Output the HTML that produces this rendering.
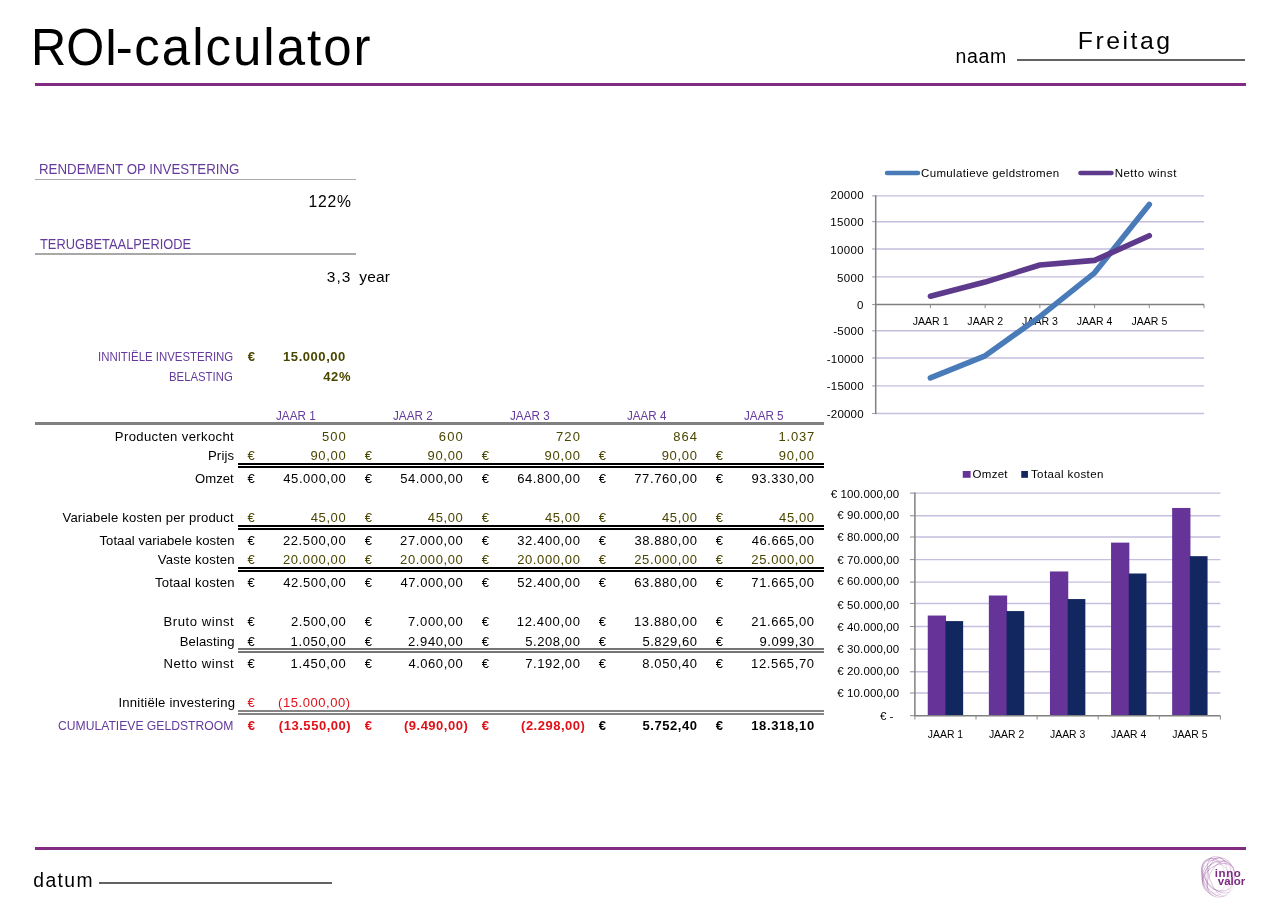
<!DOCTYPE html>
<html lang="nl"><head><meta charset="utf-8"><title>ROI-calculator</title>
<style>
html,body{margin:0;padding:0;background:#fff;}
body{width:1280px;height:904px;position:relative;overflow:hidden;font-family:"Liberation Sans",sans-serif;color:#000;}
.t{position:absolute;white-space:nowrap;line-height:1;transform-origin:0 0;}
.r{position:absolute;}
h1{margin:0;font-weight:normal;font-size:inherit;}
.chart{position:absolute;left:0;top:0;}
.page{position:absolute;left:0;top:0;width:1280px;height:904px;will-change:transform;}
</style></head><body><main class="page">
<header>
<h1>
<span class="t title" style="left:30.80px;top:22px;font-size:51px;transform:scaleX(0.9559);">ROI</span>
<span class="t title" style="left:115.86px;top:22px;font-size:51px;letter-spacing:0.705px;">-</span>
<span class="t title" style="left:134.26px;top:22px;font-size:51px;letter-spacing:2.009px;">calculator</span>
</h1>
<div class="t" style="left:955.46px;top:47px;font-size:19.5px;letter-spacing:0.712px;">naam</div>
<div class="r" style="left:1017.00px;top:59.45px;width:228.40px;height:1.40px;background:#626262"></div>
<div class="t" style="left:1077.77px;top:29px;font-size:24.8px;letter-spacing:2.507px;">Freitag</div>
<div class="r" style="left:34.50px;top:82.95px;width:1211.20px;height:3.05px;background:#812b83"></div>
</header>
<section class="kpi">
<div class="t" style="left:39.31px;top:162px;font-size:14.5px;transform:scaleX(0.9166);color:#643a9c;">RENDEMENT OP INVESTERING</div>
<div class="r" style="left:34.60px;top:178.75px;width:321.50px;height:1.45px;background:#a8a8a8"></div>
<div class="t" style="left:308.61px;top:194px;font-size:15.7px;letter-spacing:0.699px;">122%</div>
<div class="t" style="left:40.12px;top:237px;font-size:14.5px;transform:scaleX(0.8861);color:#643a9c;">TERUGBETAALPERIODE</div>
<div class="r" style="left:34.60px;top:253.40px;width:321.50px;height:1.45px;background:#a8a8a8"></div>
<div class="t" style="left:326.81px;top:269px;font-size:15.5px;letter-spacing:1.005px;">3,3</div>
<div class="t" style="left:359.27px;top:269px;font-size:15.5px;letter-spacing:0.144px;">year</div>
</section>
<section class="inputs">
<div class="t" style="left:97.85px;top:351px;font-size:12.8px;transform:scaleX(0.8930);color:#643a9c;">INNITIËLE INVESTERING</div>
<div class="t" style="left:247.65px;top:350px;font-size:13px;color:#4a4600;font-weight:bold;">€</div>
<div class="t" style="left:283.09px;top:350px;font-size:13px;letter-spacing:0.549px;color:#4a4600;font-weight:bold;">15.000,00</div>
<div class="t" style="left:169.37px;top:371px;font-size:12.8px;transform:scaleX(0.8876);color:#643a9c;">BELASTING</div>
<div class="t" style="left:323.20px;top:370px;font-size:13px;letter-spacing:0.660px;color:#4a4600;font-weight:bold;">42%</div>
</section>
<section class="table">
<div class="t" style="left:276.22px;top:409px;font-size:13.2px;transform:scaleX(0.8881);color:#643a9c;">JAAR 1</div>
<div class="t" style="left:393.20px;top:409px;font-size:13.2px;transform:scaleX(0.8886);color:#643a9c;">JAAR 2</div>
<div class="t" style="left:510.18px;top:409px;font-size:13.2px;transform:scaleX(0.8867);color:#643a9c;">JAAR 3</div>
<div class="t" style="left:627.17px;top:409px;font-size:13.2px;transform:scaleX(0.8830);color:#643a9c;">JAAR 4</div>
<div class="t" style="left:744.14px;top:409px;font-size:13.2px;transform:scaleX(0.8862);color:#643a9c;">JAAR 5</div>
<div class="r" style="left:34.60px;top:422.30px;width:789.30px;height:3.20px;background:#808080"></div>
<div class="t" style="left:114.83px;top:430px;font-size:13.1px;letter-spacing:0.359px;">Producten verkocht</div>
<div class="t" style="left:321.88px;top:430px;font-size:13px;letter-spacing:1.065px;color:#4a4600;">500</div>
<div class="t" style="left:438.85px;top:430px;font-size:13px;letter-spacing:1.130px;color:#4a4600;">600</div>
<div class="t" style="left:555.94px;top:430px;font-size:13px;letter-spacing:1.136px;color:#4a4600;">720</div>
<div class="t" style="left:673.14px;top:430px;font-size:13px;letter-spacing:1.026px;color:#4a4600;">864</div>
<div class="t" style="left:778.41px;top:430px;font-size:13px;letter-spacing:0.828px;color:#4a4600;">1.037</div>
<div class="t" style="left:207.93px;top:449px;font-size:13.1px;letter-spacing:0.195px;">Prijs</div>
<div class="t" style="left:247.61px;top:449px;font-size:13px;color:#4a4600;">€</div>
<div class="t" style="left:310.40px;top:449px;font-size:13px;letter-spacing:0.691px;color:#4a4600;">90,00</div>
<div class="t" style="left:364.66px;top:449px;font-size:13px;color:#4a4600;">€</div>
<div class="t" style="left:427.50px;top:449px;font-size:13px;letter-spacing:0.691px;color:#4a4600;">90,00</div>
<div class="t" style="left:481.71px;top:449px;font-size:13px;color:#4a4600;">€</div>
<div class="t" style="left:544.60px;top:449px;font-size:13px;letter-spacing:0.692px;color:#4a4600;">90,00</div>
<div class="t" style="left:598.76px;top:449px;font-size:13px;color:#4a4600;">€</div>
<div class="t" style="left:661.70px;top:449px;font-size:13px;letter-spacing:0.692px;color:#4a4600;">90,00</div>
<div class="t" style="left:715.81px;top:449px;font-size:13px;color:#4a4600;">€</div>
<div class="t" style="left:778.80px;top:449px;font-size:13px;letter-spacing:0.692px;color:#4a4600;">90,00</div>
<div class="r" style="left:238.00px;top:462.85px;width:585.90px;height:2.10px;background:#000"></div>
<div class="r" style="left:238.00px;top:466.00px;width:585.90px;height:2.10px;background:#000"></div>
<div class="t" style="left:194.88px;top:472px;font-size:13.1px;letter-spacing:0.082px;">Omzet</div>
<div class="t" style="left:247.61px;top:472px;font-size:13px;">€</div>
<div class="t" style="left:283.31px;top:472px;font-size:13px;letter-spacing:0.568px;">45.000,00</div>
<div class="t" style="left:364.66px;top:472px;font-size:13px;">€</div>
<div class="t" style="left:400.18px;top:472px;font-size:13px;letter-spacing:0.597px;">54.000,00</div>
<div class="t" style="left:481.71px;top:472px;font-size:13px;">€</div>
<div class="t" style="left:517.15px;top:472px;font-size:13px;letter-spacing:0.613px;">64.800,00</div>
<div class="t" style="left:598.76px;top:472px;font-size:13px;">€</div>
<div class="t" style="left:634.24px;top:472px;font-size:13px;letter-spacing:0.615px;">77.760,00</div>
<div class="t" style="left:715.81px;top:472px;font-size:13px;">€</div>
<div class="t" style="left:751.40px;top:472px;font-size:13px;letter-spacing:0.607px;">93.330,00</div>
<div class="t" style="left:62.45px;top:511px;font-size:13.1px;letter-spacing:0.178px;">Variabele kosten per product</div>
<div class="t" style="left:247.61px;top:511px;font-size:13px;color:#4a4600;">€</div>
<div class="t" style="left:310.71px;top:511px;font-size:13px;letter-spacing:0.613px;color:#4a4600;">45,00</div>
<div class="t" style="left:364.66px;top:511px;font-size:13px;color:#4a4600;">€</div>
<div class="t" style="left:427.81px;top:511px;font-size:13px;letter-spacing:0.613px;color:#4a4600;">45,00</div>
<div class="t" style="left:481.71px;top:511px;font-size:13px;color:#4a4600;">€</div>
<div class="t" style="left:544.91px;top:511px;font-size:13px;letter-spacing:0.614px;color:#4a4600;">45,00</div>
<div class="t" style="left:598.76px;top:511px;font-size:13px;color:#4a4600;">€</div>
<div class="t" style="left:662.01px;top:511px;font-size:13px;letter-spacing:0.614px;color:#4a4600;">45,00</div>
<div class="t" style="left:715.81px;top:511px;font-size:13px;color:#4a4600;">€</div>
<div class="t" style="left:779.11px;top:511px;font-size:13px;letter-spacing:0.614px;color:#4a4600;">45,00</div>
<div class="r" style="left:238.00px;top:524.75px;width:585.90px;height:2.10px;background:#000"></div>
<div class="r" style="left:238.00px;top:527.95px;width:585.90px;height:2.10px;background:#000"></div>
<div class="t" style="left:99.51px;top:534px;font-size:13.1px;letter-spacing:0.047px;">Totaal variabele kosten</div>
<div class="t" style="left:247.61px;top:534px;font-size:13px;">€</div>
<div class="t" style="left:282.95px;top:534px;font-size:13px;letter-spacing:0.613px;">22.500,00</div>
<div class="t" style="left:364.66px;top:534px;font-size:13px;">€</div>
<div class="t" style="left:400.05px;top:534px;font-size:13px;letter-spacing:0.613px;">27.000,00</div>
<div class="t" style="left:481.71px;top:534px;font-size:13px;">€</div>
<div class="t" style="left:517.31px;top:534px;font-size:13px;letter-spacing:0.594px;">32.400,00</div>
<div class="t" style="left:598.76px;top:534px;font-size:13px;">€</div>
<div class="t" style="left:634.41px;top:534px;font-size:13px;letter-spacing:0.594px;">38.880,00</div>
<div class="t" style="left:715.81px;top:534px;font-size:13px;">€</div>
<div class="t" style="left:751.71px;top:534px;font-size:13px;letter-spacing:0.568px;">46.665,00</div>
<div class="t" style="left:157.85px;top:553px;font-size:13.1px;letter-spacing:0.175px;">Vaste kosten</div>
<div class="t" style="left:247.61px;top:553px;font-size:13px;color:#4a4600;">€</div>
<div class="t" style="left:282.95px;top:553px;font-size:13px;letter-spacing:0.613px;color:#4a4600;">20.000,00</div>
<div class="t" style="left:364.66px;top:553px;font-size:13px;color:#4a4600;">€</div>
<div class="t" style="left:400.05px;top:553px;font-size:13px;letter-spacing:0.613px;color:#4a4600;">20.000,00</div>
<div class="t" style="left:481.71px;top:553px;font-size:13px;color:#4a4600;">€</div>
<div class="t" style="left:517.15px;top:553px;font-size:13px;letter-spacing:0.613px;color:#4a4600;">20.000,00</div>
<div class="t" style="left:598.76px;top:553px;font-size:13px;color:#4a4600;">€</div>
<div class="t" style="left:634.25px;top:553px;font-size:13px;letter-spacing:0.613px;color:#4a4600;">25.000,00</div>
<div class="t" style="left:715.81px;top:553px;font-size:13px;color:#4a4600;">€</div>
<div class="t" style="left:751.35px;top:553px;font-size:13px;letter-spacing:0.613px;color:#4a4600;">25.000,00</div>
<div class="r" style="left:238.00px;top:567.00px;width:585.90px;height:2.10px;background:#000"></div>
<div class="r" style="left:238.00px;top:570.10px;width:585.90px;height:2.10px;background:#000"></div>
<div class="t" style="left:154.91px;top:576px;font-size:13.1px;letter-spacing:0.203px;">Totaal kosten</div>
<div class="t" style="left:247.61px;top:576px;font-size:13px;">€</div>
<div class="t" style="left:283.31px;top:576px;font-size:13px;letter-spacing:0.568px;">42.500,00</div>
<div class="t" style="left:364.66px;top:576px;font-size:13px;">€</div>
<div class="t" style="left:400.41px;top:576px;font-size:13px;letter-spacing:0.568px;">47.000,00</div>
<div class="t" style="left:481.71px;top:576px;font-size:13px;">€</div>
<div class="t" style="left:517.28px;top:576px;font-size:13px;letter-spacing:0.597px;">52.400,00</div>
<div class="t" style="left:598.76px;top:576px;font-size:13px;">€</div>
<div class="t" style="left:634.25px;top:576px;font-size:13px;letter-spacing:0.613px;">63.880,00</div>
<div class="t" style="left:715.81px;top:576px;font-size:13px;">€</div>
<div class="t" style="left:751.34px;top:576px;font-size:13px;letter-spacing:0.615px;">71.665,00</div>
<div class="t" style="left:163.53px;top:615px;font-size:13.1px;letter-spacing:0.547px;">Bruto winst</div>
<div class="t" style="left:247.61px;top:615px;font-size:13px;">€</div>
<div class="t" style="left:290.95px;top:615px;font-size:13px;letter-spacing:0.593px;">2.500,00</div>
<div class="t" style="left:364.66px;top:615px;font-size:13px;">€</div>
<div class="t" style="left:408.04px;top:615px;font-size:13px;letter-spacing:0.594px;">7.000,00</div>
<div class="t" style="left:481.71px;top:615px;font-size:13px;">€</div>
<div class="t" style="left:516.81px;top:615px;font-size:13px;letter-spacing:0.656px;">12.400,00</div>
<div class="t" style="left:598.76px;top:615px;font-size:13px;">€</div>
<div class="t" style="left:633.91px;top:615px;font-size:13px;letter-spacing:0.656px;">13.880,00</div>
<div class="t" style="left:715.81px;top:615px;font-size:13px;">€</div>
<div class="t" style="left:751.35px;top:615px;font-size:13px;letter-spacing:0.613px;">21.665,00</div>
<div class="t" style="left:179.63px;top:635px;font-size:13.1px;letter-spacing:0.127px;">Belasting</div>
<div class="t" style="left:247.61px;top:635px;font-size:13px;">€</div>
<div class="t" style="left:290.61px;top:635px;font-size:13px;letter-spacing:0.641px;">1.050,00</div>
<div class="t" style="left:364.66px;top:635px;font-size:13px;">€</div>
<div class="t" style="left:408.05px;top:635px;font-size:13px;letter-spacing:0.593px;">2.940,00</div>
<div class="t" style="left:481.71px;top:635px;font-size:13px;">€</div>
<div class="t" style="left:525.28px;top:635px;font-size:13px;letter-spacing:0.574px;">5.208,00</div>
<div class="t" style="left:598.76px;top:635px;font-size:13px;">€</div>
<div class="t" style="left:642.38px;top:635px;font-size:13px;letter-spacing:0.574px;">5.829,60</div>
<div class="t" style="left:715.81px;top:635px;font-size:13px;">€</div>
<div class="t" style="left:759.40px;top:635px;font-size:13px;letter-spacing:0.585px;">9.099,30</div>
<div class="r" style="left:238.00px;top:648.20px;width:585.90px;height:1.80px;background:#757575"></div>
<div class="r" style="left:238.00px;top:651.40px;width:585.90px;height:1.80px;background:#757575"></div>
<div class="t" style="left:163.53px;top:657px;font-size:13.1px;letter-spacing:0.547px;">Netto winst</div>
<div class="t" style="left:247.61px;top:657px;font-size:13px;">€</div>
<div class="t" style="left:290.61px;top:657px;font-size:13px;letter-spacing:0.641px;">1.450,00</div>
<div class="t" style="left:364.66px;top:657px;font-size:13px;">€</div>
<div class="t" style="left:408.41px;top:657px;font-size:13px;letter-spacing:0.541px;">4.060,00</div>
<div class="t" style="left:481.71px;top:657px;font-size:13px;">€</div>
<div class="t" style="left:525.14px;top:657px;font-size:13px;letter-spacing:0.594px;">7.192,00</div>
<div class="t" style="left:598.76px;top:657px;font-size:13px;">€</div>
<div class="t" style="left:642.34px;top:657px;font-size:13px;letter-spacing:0.580px;">8.050,40</div>
<div class="t" style="left:715.81px;top:657px;font-size:13px;">€</div>
<div class="t" style="left:751.01px;top:657px;font-size:13px;letter-spacing:0.656px;">12.565,70</div>
<div class="t" style="left:118.39px;top:696px;font-size:13.1px;letter-spacing:0.225px;">Innitiële investering</div>
<div class="t" style="left:247.61px;top:696px;font-size:13px;color:#e01018;">€</div>
<div class="t" style="left:277.99px;top:696px;font-size:13px;letter-spacing:0.562px;color:#e01018;">(15.000,00)</div>
<div class="r" style="left:238.00px;top:710.00px;width:585.90px;height:1.90px;background:#848484"></div>
<div class="r" style="left:238.00px;top:713.20px;width:585.90px;height:1.90px;background:#848484"></div>
<div class="t" style="left:58.49px;top:720px;font-size:12.8px;transform:scaleX(0.9492);color:#643a9c;">CUMULATIEVE GELDSTROOM</div>
<div class="t" style="left:247.65px;top:719px;font-size:13px;color:#e01018;font-weight:bold;">€</div>
<div class="t" style="left:278.86px;top:719px;font-size:13px;letter-spacing:0.528px;color:#e01018;font-weight:bold;">(13.550,00)</div>
<div class="t" style="left:364.70px;top:719px;font-size:13px;color:#e01018;font-weight:bold;">€</div>
<div class="t" style="left:403.96px;top:719px;font-size:13px;letter-spacing:0.501px;color:#e01018;font-weight:bold;">(9.490,00)</div>
<div class="t" style="left:481.75px;top:719px;font-size:13px;color:#e01018;font-weight:bold;">€</div>
<div class="t" style="left:521.06px;top:719px;font-size:13px;letter-spacing:0.501px;color:#e01018;font-weight:bold;">(2.298,00)</div>
<div class="t" style="left:598.80px;top:719px;font-size:13px;font-weight:bold;">€</div>
<div class="t" style="left:642.51px;top:719px;font-size:13px;letter-spacing:0.559px;font-weight:bold;">5.752,40</div>
<div class="t" style="left:715.85px;top:719px;font-size:13px;font-weight:bold;">€</div>
<div class="t" style="left:751.19px;top:719px;font-size:13px;letter-spacing:0.636px;font-weight:bold;">18.318,10</div>
</section>
<footer>
<div class="r" style="left:34.50px;top:846.80px;width:1211.20px;height:3.20px;background:#812b83"></div>
<div class="t" style="left:33.29px;top:871px;font-size:19.3px;letter-spacing:1.408px;">datum</div>
<div class="r" style="left:98.80px;top:882.30px;width:233.70px;height:1.40px;background:#626262"></div>
</footer>
<svg class="chart" width="1280" height="904" viewBox="0 0 1280 904">
<g font-family="'Liberation Sans',sans-serif" font-size="11.5" fill="#000">
<line x1="875.7" y1="413.50" x2="1204.0" y2="413.50" stroke="#c5bedd" stroke-width="1.4"/>
<line x1="872.1" y1="413.50" x2="875.7" y2="413.50" stroke="#808080" stroke-width="0.8"/>
<text x="826.84" y="418.10" textLength="36.75" lengthAdjust="spacing">-20000</text>
<line x1="875.7" y1="385.90" x2="1204.0" y2="385.90" stroke="#c5bedd" stroke-width="1.4"/>
<line x1="872.1" y1="385.90" x2="875.7" y2="385.90" stroke="#808080" stroke-width="0.8"/>
<text x="826.84" y="390.30" textLength="36.75" lengthAdjust="spacing">-15000</text>
<line x1="875.7" y1="358.00" x2="1204.0" y2="358.00" stroke="#c5bedd" stroke-width="1.4"/>
<line x1="872.1" y1="358.00" x2="875.7" y2="358.00" stroke="#808080" stroke-width="0.8"/>
<text x="826.84" y="362.70" textLength="36.75" lengthAdjust="spacing">-10000</text>
<line x1="875.7" y1="330.80" x2="1204.0" y2="330.80" stroke="#c5bedd" stroke-width="1.4"/>
<line x1="872.1" y1="330.80" x2="875.7" y2="330.80" stroke="#808080" stroke-width="0.8"/>
<text x="833.29" y="335.20" textLength="30.33" lengthAdjust="spacing">-5000</text>
<line x1="872.1" y1="304.50" x2="875.7" y2="304.50" stroke="#808080" stroke-width="0.8"/>
<text x="857.04" y="309.30">0</text>
<line x1="875.7" y1="276.90" x2="1204.0" y2="276.90" stroke="#c5bedd" stroke-width="1.4"/>
<line x1="872.1" y1="276.90" x2="875.7" y2="276.90" stroke="#808080" stroke-width="0.8"/>
<text x="836.99" y="281.70" textLength="26.74" lengthAdjust="spacing">5000</text>
<line x1="875.7" y1="249.00" x2="1204.0" y2="249.00" stroke="#c5bedd" stroke-width="1.4"/>
<line x1="872.1" y1="249.00" x2="875.7" y2="249.00" stroke="#808080" stroke-width="0.8"/>
<text x="830.13" y="254.00" textLength="33.64" lengthAdjust="spacing">10000</text>
<line x1="875.7" y1="221.70" x2="1204.0" y2="221.70" stroke="#c5bedd" stroke-width="1.4"/>
<line x1="872.1" y1="221.70" x2="875.7" y2="221.70" stroke="#808080" stroke-width="0.8"/>
<text x="830.13" y="226.20" textLength="33.64" lengthAdjust="spacing">15000</text>
<line x1="875.7" y1="195.90" x2="1204.0" y2="195.90" stroke="#c5bedd" stroke-width="1.4"/>
<line x1="872.1" y1="195.90" x2="875.7" y2="195.90" stroke="#808080" stroke-width="0.8"/>
<text x="830.42" y="198.60" textLength="33.27" lengthAdjust="spacing">20000</text>
<line x1="875.7" y1="195.30" x2="875.7" y2="414.10" stroke="#808080" stroke-width="1.5"/>
<line x1="875.7" y1="304.50" x2="1204.0" y2="304.50" stroke="#808080" stroke-width="1.5"/>
<line x1="875.70" y1="304.50" x2="875.70" y2="308.10" stroke="#808080" stroke-width="0.9"/>
<line x1="930.42" y1="304.50" x2="930.42" y2="308.10" stroke="#808080" stroke-width="0.9"/>
<line x1="985.13" y1="304.50" x2="985.13" y2="308.10" stroke="#808080" stroke-width="0.9"/>
<line x1="1039.85" y1="304.50" x2="1039.85" y2="308.10" stroke="#808080" stroke-width="0.9"/>
<line x1="1094.57" y1="304.50" x2="1094.57" y2="308.10" stroke="#808080" stroke-width="0.9"/>
<line x1="1149.28" y1="304.50" x2="1149.28" y2="308.10" stroke="#808080" stroke-width="0.9"/>
<line x1="1204.00" y1="304.50" x2="1204.00" y2="308.10" stroke="#808080" stroke-width="0.9"/>
<text x="912.66" y="325.30" textLength="35.87" lengthAdjust="spacingAndGlyphs">JAAR 1</text>
<text x="967.37" y="325.30" textLength="35.89" lengthAdjust="spacingAndGlyphs">JAAR 2</text>
<text x="1022.09" y="325.30" textLength="35.81" lengthAdjust="spacingAndGlyphs">JAAR 3</text>
<text x="1076.81" y="325.30" textLength="35.66" lengthAdjust="spacingAndGlyphs">JAAR 4</text>
<text x="1131.52" y="325.30" textLength="35.79" lengthAdjust="spacingAndGlyphs">JAAR 5</text>
<polyline points="930.42,377.89 985.13,355.79 1039.85,316.66 1094.57,272.85 1149.28,204.46" fill="none" stroke="#4a7bb9" stroke-width="5.6" stroke-linecap="round" stroke-linejoin="round"/>
<polyline points="930.42,296.26 985.13,282.06 1039.85,265.01 1094.57,260.34 1149.28,235.77" fill="none" stroke="#5d3a8c" stroke-width="5.6" stroke-linecap="round" stroke-linejoin="round"/>
<line x1="887.1" y1="173" x2="917.9" y2="173" stroke="#4a7bb9" stroke-width="4.7" stroke-linecap="round"/>
<text x="921.02" y="176.90" textLength="138.15" lengthAdjust="spacing">Cumulatieve geldstromen</text>
<line x1="1080.5" y1="173" x2="1111.4" y2="173" stroke="#5d3a8c" stroke-width="4.7" stroke-linecap="round"/>
<text x="1114.66" y="176.90" textLength="61.77" lengthAdjust="spacing">Netto winst</text>
</g>
<g font-family="'Liberation Sans',sans-serif" font-size="11.5" fill="#000">
<line x1="910.0" y1="715.70" x2="914.9" y2="715.70" stroke="#808080" stroke-width="0.9"/>
<text x="879.92" y="719.50" textLength="13.52" lengthAdjust="spacing">€ -</text>
<line x1="914.9" y1="693.00" x2="1220.4" y2="693.00" stroke="#c5bedd" stroke-width="1.4"/>
<line x1="910.0" y1="693.00" x2="914.9" y2="693.00" stroke="#808080" stroke-width="0.9"/>
<text x="837.22" y="697.30" textLength="62.03" lengthAdjust="spacing">€ 10.000,00</text>
<line x1="914.9" y1="671.80" x2="1220.4" y2="671.80" stroke="#c5bedd" stroke-width="1.4"/>
<line x1="910.0" y1="671.80" x2="914.9" y2="671.80" stroke="#808080" stroke-width="0.9"/>
<text x="837.22" y="674.90" textLength="62.03" lengthAdjust="spacing">€ 20.000,00</text>
<line x1="914.9" y1="649.10" x2="1220.4" y2="649.10" stroke="#c5bedd" stroke-width="1.4"/>
<line x1="910.0" y1="649.10" x2="914.9" y2="649.10" stroke="#808080" stroke-width="0.9"/>
<text x="837.22" y="653.40" textLength="62.03" lengthAdjust="spacing">€ 30.000,00</text>
<line x1="914.9" y1="626.50" x2="1220.4" y2="626.50" stroke="#c5bedd" stroke-width="1.4"/>
<line x1="910.0" y1="626.50" x2="914.9" y2="626.50" stroke="#808080" stroke-width="0.9"/>
<text x="837.22" y="631.00" textLength="62.03" lengthAdjust="spacing">€ 40.000,00</text>
<line x1="914.9" y1="603.45" x2="1220.4" y2="603.45" stroke="#c5bedd" stroke-width="1.4"/>
<line x1="910.0" y1="603.45" x2="914.9" y2="603.45" stroke="#808080" stroke-width="0.9"/>
<text x="837.22" y="608.70" textLength="62.03" lengthAdjust="spacing">€ 50.000,00</text>
<line x1="914.9" y1="582.10" x2="1220.4" y2="582.10" stroke="#c5bedd" stroke-width="1.4"/>
<line x1="910.0" y1="582.10" x2="914.9" y2="582.10" stroke="#808080" stroke-width="0.9"/>
<text x="837.22" y="584.90" textLength="62.03" lengthAdjust="spacing">€ 60.000,00</text>
<line x1="914.9" y1="559.60" x2="1220.4" y2="559.60" stroke="#c5bedd" stroke-width="1.4"/>
<line x1="910.0" y1="559.60" x2="914.9" y2="559.60" stroke="#808080" stroke-width="0.9"/>
<text x="837.22" y="563.60" textLength="62.03" lengthAdjust="spacing">€ 70.000,00</text>
<line x1="914.9" y1="537.00" x2="1220.4" y2="537.00" stroke="#c5bedd" stroke-width="1.4"/>
<line x1="910.0" y1="537.00" x2="914.9" y2="537.00" stroke="#808080" stroke-width="0.9"/>
<text x="837.22" y="541.30" textLength="62.03" lengthAdjust="spacing">€ 80.000,00</text>
<line x1="914.9" y1="515.75" x2="1220.4" y2="515.75" stroke="#c5bedd" stroke-width="1.4"/>
<line x1="910.0" y1="515.75" x2="914.9" y2="515.75" stroke="#808080" stroke-width="0.9"/>
<text x="837.22" y="518.80" textLength="62.03" lengthAdjust="spacing">€ 90.000,00</text>
<line x1="914.9" y1="493.10" x2="1220.4" y2="493.10" stroke="#c5bedd" stroke-width="1.4"/>
<line x1="910.0" y1="493.10" x2="914.9" y2="493.10" stroke="#808080" stroke-width="0.9"/>
<text x="830.72" y="497.70" textLength="68.53" lengthAdjust="spacing">€ 100.000,00</text>
<rect x="927.75" y="615.53" width="18.3" height="100.17" fill="#663399"/>
<rect x="945.45" y="621.10" width="17.7" height="94.61" fill="#12265f"/>
<text x="927.79" y="738.30" textLength="35.36" lengthAdjust="spacingAndGlyphs">JAAR 1</text>
<rect x="988.85" y="595.50" width="18.3" height="120.20" fill="#663399"/>
<rect x="1006.55" y="611.08" width="17.7" height="104.62" fill="#12265f"/>
<text x="988.89" y="738.30" textLength="35.38" lengthAdjust="spacingAndGlyphs">JAAR 2</text>
<rect x="1049.95" y="571.46" width="18.3" height="144.24" fill="#663399"/>
<rect x="1067.65" y="599.06" width="17.7" height="116.64" fill="#12265f"/>
<text x="1049.99" y="738.30" textLength="35.31" lengthAdjust="spacingAndGlyphs">JAAR 3</text>
<rect x="1111.05" y="542.61" width="18.3" height="173.09" fill="#663399"/>
<rect x="1128.75" y="573.50" width="17.7" height="142.20" fill="#12265f"/>
<text x="1111.09" y="738.30" textLength="35.16" lengthAdjust="spacingAndGlyphs">JAAR 4</text>
<rect x="1172.15" y="507.95" width="18.3" height="207.75" fill="#663399"/>
<rect x="1189.85" y="556.17" width="17.7" height="159.53" fill="#12265f"/>
<text x="1172.19" y="738.30" textLength="35.28" lengthAdjust="spacingAndGlyphs">JAAR 5</text>
<line x1="914.9" y1="492.60" x2="914.9" y2="716.30" stroke="#808080" stroke-width="1.5"/>
<line x1="914.9" y1="715.70" x2="1220.4" y2="715.70" stroke="#808080" stroke-width="1.4"/>
<line x1="914.90" y1="715.70" x2="914.90" y2="719.50" stroke="#808080" stroke-width="0.9"/>
<line x1="976.00" y1="715.70" x2="976.00" y2="719.50" stroke="#808080" stroke-width="0.9"/>
<line x1="1037.10" y1="715.70" x2="1037.10" y2="719.50" stroke="#808080" stroke-width="0.9"/>
<line x1="1098.20" y1="715.70" x2="1098.20" y2="719.50" stroke="#808080" stroke-width="0.9"/>
<line x1="1159.30" y1="715.70" x2="1159.30" y2="719.50" stroke="#808080" stroke-width="0.9"/>
<line x1="1220.40" y1="715.70" x2="1220.40" y2="719.50" stroke="#808080" stroke-width="0.9"/>
<rect x="962.75" y="471" width="7.85" height="6.8" fill="#663399"/>
<text x="972.56" y="477.60" textLength="34.99" lengthAdjust="spacing">Omzet</text>
<rect x="1021.25" y="471" width="6.7" height="6.8" fill="#12265f"/>
<text x="1031.00" y="477.60" textLength="72.35" lengthAdjust="spacing">Totaal kosten</text>
</g>
<defs><linearGradient id="lg" gradientUnits="userSpaceOnUse" x1="1201" y1="872" x2="1236" y2="886"><stop offset="0" stop-color="#8a3d90" stop-opacity="0.5"/><stop offset="0.35" stop-color="#8a3d90" stop-opacity="0.42"/><stop offset="0.7" stop-color="#8a3d90" stop-opacity="0.14"/><stop offset="0.95" stop-color="#8a3d90" stop-opacity="0"/></linearGradient></defs>
<g fill="none" stroke="url(#lg)" stroke-width="0.65">
<ellipse cx="1217.0" cy="877.0" rx="15.0" ry="20.5" transform="rotate(-10 1217.0 877.0)"/>
<ellipse cx="1218.0" cy="876.5" rx="15.5" ry="19.0" transform="rotate(18 1218.0 876.5)"/>
<ellipse cx="1216.5" cy="877.5" rx="13.0" ry="20.5" transform="rotate(-28 1216.5 877.5)"/>
<ellipse cx="1219.0" cy="877.0" rx="15.0" ry="17.0" transform="rotate(40 1219.0 877.0)"/>
<ellipse cx="1217.5" cy="876.5" rx="11.5" ry="19.5" transform="rotate(-42 1217.5 876.5)"/>
<ellipse cx="1218.5" cy="878.0" rx="12.5" ry="18.0" transform="rotate(55 1218.5 878.0)"/>
<ellipse cx="1217.0" cy="877.0" rx="10.0" ry="19.5" transform="rotate(8 1217.0 877.0)"/>
<ellipse cx="1220.0" cy="876.8" rx="14.0" ry="15.5" transform="rotate(-60 1220.0 876.8)"/>
<ellipse cx="1219.0" cy="877.2" rx="9.5" ry="18.0" transform="rotate(28 1219.0 877.2)"/>
<ellipse cx="1218.0" cy="877.0" rx="8.5" ry="20.0" transform="rotate(-20 1218.0 877.0)"/>
</g>
<g font-family="'Liberation Sans',sans-serif" font-weight="bold" font-size="11.5" fill="#7a2a80">
<text x="1214.81" y="877.30" textLength="26.09" lengthAdjust="spacing">inno</text>
<text x="1217.87" y="884.80" textLength="27.40" lengthAdjust="spacingAndGlyphs">valor</text>
</g>
</svg>
</main></body></html>
